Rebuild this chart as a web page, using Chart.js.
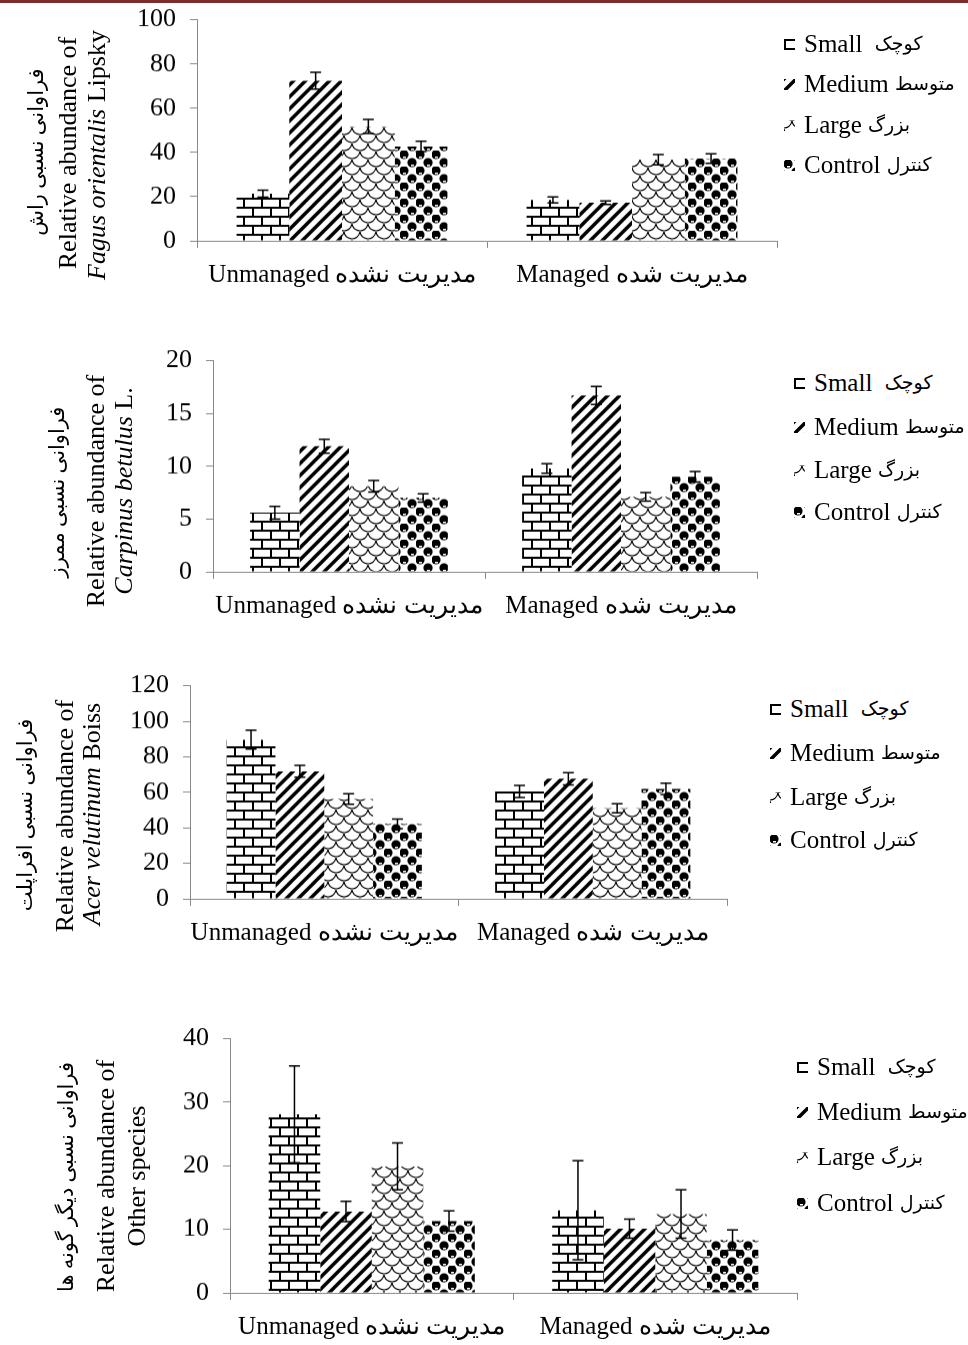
<!DOCTYPE html>
<html>
<head>
<meta charset="utf-8">
<script src="https://cdn.jsdelivr.net/npm/chart.js@4.4.0/dist/chart.umd.min.js"></script>
<style>
  body { margin:0; background:#fff; width:968px; height:1345px; position:relative; overflow:hidden;
         font-family:"Liberation Serif","DejaVu Sans",serif; color:#000; }
  .topline { position:absolute; left:0; top:0; width:968px; height:3px; background:#7d2b2b; }
  .cv { position:absolute; left:0; }
  .yt { position:absolute; white-space:nowrap; line-height:1; transform:translate(-50%,-50%) rotate(-90deg); }
  .lg { position:absolute; white-space:pre; font-size:25px; line-height:26px; display:flex; align-items:center; }
  .lg canvas { margin-right:9px; }
  .fa { font-size:19px; }
</style>
</head>
<body>
<div class="topline"></div>

<canvas id="c1" class="cv"></canvas>
<canvas id="c2" class="cv"></canvas>
<canvas id="c3" class="cv"></canvas>
<canvas id="c4" class="cv"></canvas>

<script>
// categories and series names
var groups = ['Unmanaged مدیریت نشده', 'Managed مدیریت شده'];
var sizesEn = ['Small  ', 'Medium ', 'Large ', 'Control '];
var sizesFa = ['کوچک', 'متوسط', 'بزرگ', 'کنترل'];

// Fagus orientalis
var fagusSmall = [21.3, 18.5],   fagusSmallErr = [1.6, 1.4];
var fagusMedium = [72.4, 17.2],  fagusMediumErr = [3.8, 0.8];
var fagusLarge = [51.7, 36.7],   fagusLargeErr = [3.2, 2.3];
var fagusControl = [42.7, 37.2], fagusControlErr = [2.3, 2.2];

// Carpinus betulus
var carpSmall = [5.6, 9.8],    carpSmallErr = [0.6, 0.45];
var carpMedium = [11.9, 16.7], carpMediumErr = [0.65, 0.85];
var carpLarge = [8.1, 7.1],    carpLargeErr = [0.55, 0.4];
var carpControl = [7.0, 9.0],  carpControlErr = [0.4, 0.5];

// Acer velutinum
var acerSmall = [89.6, 60.5],   acerSmallErr = [5.3, 3.4];
var acerMedium = [71.8, 67.6],  acerMediumErr = [3.3, 3.5];
var acerLarge = [56.2, 51.0],   acerLargeErr = [3.0, 2.6];
var acerControl = [42.2, 61.9], acerControlErr = [2.7, 3.2];

// other species
var otherSmall = [28.1, 13.0],   otherSmallErr = [7.6, 7.8];
var otherMedium = [12.8, 10.1],  otherMediumErr = [1.6, 1.5];
var otherLarge = [19.9, 12.4],   otherLargeErr = [3.7, 3.8];
var otherControl = [11.3, 8.3],  otherControlErr = [1.6, 1.6];

// --- fill patterns ---
function tile(kind) {
    var c = document.createElement('canvas');
    var g = c.getContext('2d');
    if (kind == 'brick') {
        c.width = 18; c.height = 18;
        g.fillStyle = '#fff'; g.fillRect(0, 0, 18, 18);
        g.fillStyle = '#000';
        g.fillRect(0, 0, 18, 2); g.fillRect(0, 9, 18, 2);
        g.fillRect(0, 0, 2, 9); g.fillRect(9, 9, 2, 9);
    } else if (kind == 'diag') {
        c.width = 12; c.height = 12;
        g.fillStyle = '#fff'; g.fillRect(0, 0, 12, 12);
        g.strokeStyle = '#000'; g.lineWidth = 3.5;
        g.beginPath();
        g.moveTo(-2, 2); g.lineTo(2, -2);
        g.moveTo(0, 12); g.lineTo(12, 0);
        g.moveTo(10, 14); g.lineTo(14, 10);
        g.stroke();
    } else if (kind == 'scale') {
        c.width = 16; c.height = 16;
        g.fillStyle = '#fff'; g.fillRect(0, 0, 16, 16);
        g.strokeStyle = '#000'; g.lineWidth = 1.1;
        [[0, 0], [16, 0], [8, 8], [0, 16], [16, 16], [8, -8]].forEach(function(p) {
            g.beginPath(); g.arc(p[0], p[1], 8, 0.15, Math.PI - 0.15); g.stroke();
        });
    } else {
        c.width = 16; c.height = 16;
        g.fillStyle = '#fff'; g.fillRect(0, 0, 16, 16);
        g.fillStyle = '#000';
        [[4, 4], [12, 12], [12, -4], [-4, 12], [20, 12], [12, 20], [-4, -4], [20, 20], [20, -4], [-4, 20]].forEach(function(p) {
            g.beginPath(); g.arc(p[0], p[1], 4.6, 0, Math.PI * 2); g.fill();
        });
        g.fillStyle = '#fff';
        g.fillRect(3, 6, 3, 1.5); g.fillRect(11, 14, 3, 1.5);
    }
    return c;
}
var tmp = document.createElement('canvas').getContext('2d');
var kinds = ['brick', 'diag', 'scale', 'sphere'];
var pats = kinds.map(function(k) { return tmp.createPattern(tile(k), 'repeat'); });

// --- error bars ---
var errorBars = {
    id: 'errorBars',
    afterDatasetsDraw: function(chart) {
        var ctx = chart.ctx, y = chart.scales.y;
        chart.data.datasets.forEach(function(ds, i) {
            chart.getDatasetMeta(i).data.forEach(function(bar, j) {
                var v = ds.data[j], e = ds.errors[j];
                var t = y.getPixelForValue(v + e), b = y.getPixelForValue(v - e);
                ctx.save();
                ctx.strokeStyle = '#000'; ctx.lineWidth = 1.5;
                ctx.beginPath();
                ctx.moveTo(bar.x, t); ctx.lineTo(bar.x, b);
                ctx.moveTo(bar.x - 5.5, t); ctx.lineTo(bar.x + 5.5, t);
                ctx.moveTo(bar.x - 5.5, b); ctx.lineTo(bar.x + 5.5, b);
                ctx.stroke();
                ctx.restore();
            });
        });
    }
};

function config(g, vals, errs, max, step) {
    var datasets = vals.map(function(v, i) {
        return { label: sizesEn[i] + sizesFa[i], data: v, errors: errs[i], backgroundColor: pats[i], borderWidth: 0,
                 categoryPercentage: 0.727, barPercentage: 1.0 };
    });
    return {
        type: 'bar',
        data: { labels: groups, datasets: datasets },
        options: {
            responsive: false, maintainAspectRatio: false, animation: false, devicePixelRatio: 1,
            layout: { autoPadding: false, padding: { top: 20, right: 10, left: 0, bottom: 0 } },
            plugins: { legend: { display: false }, tooltip: { enabled: false } },
            scales: {
                x: {
                    afterFit: function(s) { s.height = 60; },
                    grid: { display: true, drawOnChartArea: false, offset: true, tickLength: 7, color: '#888' },
                    border: { color: '#888' },
                    ticks: { color: '#000', padding: 12, maxRotation: 0, minRotation: 0, autoSkip: false,
                             font: { family: 'Liberation Serif', size: 25 } }
                },
                y: {
                    min: 0, max: max,
                    afterFit: function(s) { s.width = g.axis; },
                    grid: { drawOnChartArea: false, tickLength: 7, color: '#888' },
                    border: { color: '#888' },
                    ticks: { stepSize: step, color: '#000', padding: 14, font: { family: 'Liberation Serif', size: 26 } }
                }
            }
        },
        plugins: [errorBars]
    };
}

function drawChart(id, g, vals, errs, max, step) {
    var cv = document.getElementById(id);
    var w = g.right + 10, h = g.bottom - g.top + 20 + 60;
    function setSize(hh) {
        cv.width = w; cv.height = hh;
        cv.style.width = w + 'px'; cv.style.height = hh + 'px';
    }
    setSize(h);
    var ch = new Chart(cv, config(g, vals, errs, max, step));
    // make the plot area land exactly where the reference has it
    var a = ch.chartArea;
    var dh = (g.bottom - g.top) - (a.bottom - a.top);
    if (Math.abs(dh) > 0.5) {
        ch.destroy();
        setSize(h + dh);
        ch = new Chart(cv, config(g, vals, errs, max, step));
        a = ch.chartArea;
    }
    cv.style.top = (g.top - a.top) + 'px';
    return ch;
}

drawChart('c1', { top: 20, bottom: 241, axis: 197, right: 777 },
    [fagusSmall, fagusMedium, fagusLarge, fagusControl],
    [fagusSmallErr, fagusMediumErr, fagusLargeErr, fagusControlErr], 100, 20);
drawChart('c2', { top: 361, bottom: 572, axis: 213, right: 757 },
    [carpSmall, carpMedium, carpLarge, carpControl],
    [carpSmallErr, carpMediumErr, carpLargeErr, carpControlErr], 20, 5);
drawChart('c3', { top: 686, bottom: 899, axis: 190, right: 727 },
    [acerSmall, acerMedium, acerLarge, acerControl],
    [acerSmallErr, acerMediumErr, acerLargeErr, acerControlErr], 120, 20);
drawChart('c4', { top: 1039, bottom: 1293, axis: 230, right: 797 },
    [otherSmall, otherMedium, otherLarge, otherControl],
    [otherSmallErr, otherMediumErr, otherLargeErr, otherControlErr], 40, 10);

// --- rotated y titles ---
function yTitle(x, y, size, html) {
    var d = document.createElement('div');
    d.className = 'yt';
    d.style.left = x + 'px'; d.style.top = y + 'px'; d.style.fontSize = size + 'px';
    d.innerHTML = html;
    document.body.appendChild(d);
}
yTitle(36, 152, 21, 'فراوانی نسبی راش');
yTitle(68, 153, 26, 'Relative abundance of');
yTitle(97, 155, 26, '<i>Fagus orientalis</i> Lipsky');

yTitle(57, 492, 21, 'فراوانی نسبی ممرز');
yTitle(96, 491, 26, 'Relative abundance of');
yTitle(124, 491, 26, '<i>Carpinus betulus</i> L.');

yTitle(25, 815, 21, 'فراوانی نسبی افراپلت');
yTitle(65, 816, 26, 'Relative abundance of');
yTitle(92, 814, 26, '<i>Acer velutinum</i> Boiss');

yTitle(66, 1177, 21, 'فراوانی نسبی دیگر گونه ها');
yTitle(106, 1176, 26, 'Relative abundance of');
yTitle(137, 1176, 26, 'Other species');

// --- legends ---
function legend(x, rows) {
    rows.forEach(function(cy, i) {
        var d = document.createElement('div');
        d.className = 'lg';
        d.style.left = x + 'px'; d.style.top = (cy - 13) + 'px';
        var sw = document.createElement('canvas');
        sw.width = 11; sw.height = 11;
        var sg = sw.getContext('2d');
        sg.fillStyle = sg.createPattern(tile(kinds[i]), 'repeat');
        sg.fillRect(0, 0, 11, 11);
        d.appendChild(sw);
        var s = document.createElement('span');
        s.textContent = sizesEn[i];
        d.appendChild(s);
        var f = document.createElement('span');
        f.className = 'fa';
        f.textContent = sizesFa[i];
        d.appendChild(f);
        document.body.appendChild(d);
    });
}
legend(784, [44, 84, 125, 165]);
legend(794, [383, 427, 470, 512]);
legend(770, [709, 753, 797, 840]);
legend(797, [1067, 1112, 1157, 1203]);
</script>
</body>
</html>
